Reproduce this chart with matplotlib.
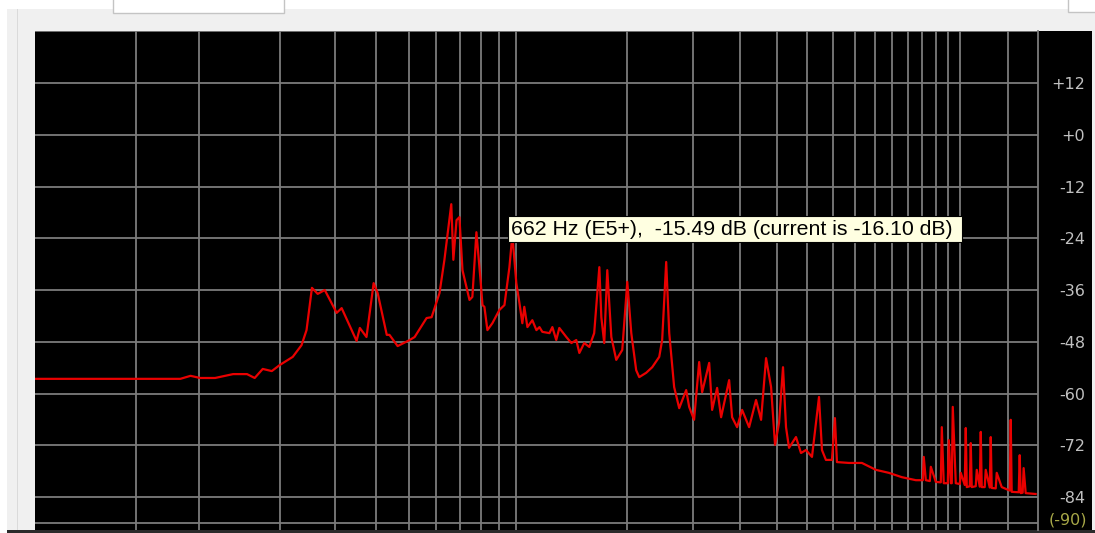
import numpy as np
import matplotlib.pyplot as plt
from matplotlib.patches import Rectangle

# cursor readout
cursor_hz = 662
cursor_note = 'E5+'
peak_db = -15.49
current_db = -16.10

# spectrum trace
freq_hz = [0, 83, 92, 101, 116, 136, 153, 163, 174, 187, 199, 220, 235, 244, 254,
           265, 279, 304, 315, 350, 358, 375, 394, 405, 431, 439, 464, 503, 520,
           563, 582, 613, 633, cursor_hz, 671, 685, 698, 712, 745, 759, 779, 800,
           810, 820, 836, 863, 903, 932, 962, 980, 1005, 1025, 1044, 1057, 1078,
           1112, 1141, 1163, 1184, 1238, 1261, 1292, 1317, 1376, 1420, 1464, 1492,
           1538, 1587, 1636, 1689, 1710, 1741, 1774, 1819, 1875, 1946, 2007, 2057,
           2120, 2160, 2254, 2339, 2442, 2486, 2548, 2596, 2675, 2759, 2879, 2932,
           3021, 3116, 3173, 3312, 3372, 3476, 3561, 3739, 3807, 3924, 4045, 4221,
           4402, 4538, 4677, 4821, 4938, 5060, 5182, 5277, 5374, 5605, 5777, 5953,
           6173, 6440, 6556, 6715, 6963, 7089, 7176, 7714, 8340, 9072, 9810, 10604,
           11534, 12027, 12097, 12247, 12546, 12621, 13004, 13400, 13479, 13638,
           13975, 14060, 14228, 14312, 14397, 14660, 15017, 15107, 15470, 15565,
           15660, 15944, 16039, 16134, 16525, 16626, 16928, 17029, 17130, 17438,
           17545, 17973, 18080, 18187, 18628, 18742, 19309, 20259, 20380, 20500,
           21381, 21508, 21636, 21892, 22020, 22292, 23660]
level_db = [-56.6, -56.6, -55.9, -56.4, -56.4, -55.5, -55.5, -56.4, -54.3, -54.8,
            -53.4, -51.5, -48.8, -45.3, -35.5, -36.9, -36.0, -41.3, -40.2, -47.8,
            -44.8, -46.9, -34.4, -36.7, -46.4, -46.4, -49.0, -47.6, -46.9, -42.5,
            -42.3, -36.7, -29.0, current_db, -29.0, -19.8, -19.1, -31.4, -38.3,
            -37.6, -22.6, -33.7, -39.5, -39.9, -45.3, -43.7, -40.6, -39.5, -30.7,
            -23.2, -34.4, -39.0, -43.7, -39.9, -44.6, -43.0, -45.3, -44.6, -45.7,
            -46.0, -44.6, -47.6, -44.8, -46.9, -48.3, -47.6, -50.6, -48.3, -49.2,
            -46.0, -30.7, -42.3, -48.3, -31.4, -46.9, -52.2, -49.9, -34.1, -46.0,
            -54.6, -56.2, -55.2, -53.9, -51.5, -47.6, -29.5, -46.0, -58.5, -63.4,
            -59.2, -63.1, -66.1, -52.7, -59.7, -52.9, -63.8, -58.7, -65.5, -56.9,
            -65.5, -67.8, -63.8, -67.8, -61.5, -66.1, -51.8, -58.5, -71.9, -66.8,
            -53.9, -67.8, -72.6, -70.1, -73.8, -73.1, -74.7, -60.8, -73.1, -75.4,
            -75.4, -65.7, -75.9, -76.1, -76.1, -77.7, -78.4, -79.4, -80.1, -80.1,
            -74.7, -80.1, -80.3, -77.0, -80.5, -80.6, -67.8, -80.8, -80.8, -70.8,
            -80.8, -80.8, -63.1, -80.8, -81.0, -78.4, -81.2, -68.0, -81.7, -81.5,
            -71.5, -81.7, -81.5, -77.7, -81.6, -68.9, -81.7, -81.7, -77.7, -81.8,
            -70.1, -81.9, -82.0, -78.4, -81.7, -82.5, -66.1, -82.8, -82.9, -74.3,
            -83.1, -83.0, -77.3, -83.1, -83.3]

# frequency grid (Hz) and level scale (dB)
grid_hz = [50, 100, 200, 300, 400, 500, 600, 700, 800, 900,
           1000, 2000, 3000, 4000, 5000, 6000, 7000, 8000, 9000, 10000,
           11000, 12000, 13000, 14000, 15000, 20000]
grid_db = [24, 12, 0, -12, -24, -36, -48, -60, -72, -84, -90]
tick_db = [12, 0, -12, -24, -36, -48, -60, -72, -84]
tick_text = ['+12', '+0', '-12', '-24', '-36', '-48', '-60', '-72', '-84']
floor_text = '(-90)'
f_max = 24000
db_top, db_bottom = 24.06, -91.65

W, H = 1095, 533
fig = plt.figure(figsize=(W / 100, H / 100), dpi=100)
fig.patch.set_facecolor('white')


def px_rect(x0, y0, x1, y1, **kw):
    # rectangle in screen pixels, y counted from the top
    r = Rectangle((x0 / W, 1 - y1 / H), (x1 - x0) / W, (y1 - y0) / H,
                  transform=fig.transFigure, **kw)
    fig.add_artist(r)
    return r


# window chrome around the analyser panel
px_rect(7, 9, 1095, 31, fc='#f0f0f0', ec='none', zorder=-5)
px_rect(7, 9, 35, 530, fc='#f0f0f0', ec='none', zorder=-5)
px_rect(17, 9, 18, 530, fc='#dadada', ec='none', zorder=-4)
px_rect(113, -3, 284, 13, fc='white', ec='#c4c4c4', lw=1.0, zorder=-3)
px_rect(1068, -3, 1100, 12, fc='white', ec='#c4c4c4', lw=1.0, zorder=-3)
px_rect(1092, 9, 1095, 530, fc='#f0f0f0', ec='none', zorder=-5)
px_rect(1038, 31, 1092, 530, fc='black', ec='none', zorder=-4)
px_rect(7, 530, 1095, 533, fc='#2b2b2b', ec='none', zorder=-4)

ax = fig.add_axes([35 / W, 3 / H, 1003 / W, 499 / H])
ax.set_facecolor('black')
# log-like frequency axis that still reaches 0 Hz
ax.set_xscale('function', functions=(lambda f: np.log10(np.asarray(f) + 60.0),
                                     lambda v: 10 ** np.asarray(v) - 60.0))
ax.set_xlim(0, f_max)
ax.set_ylim(db_bottom, db_top)

grid_color = '#7c7c7c'
for f in grid_hz:
    ax.axvline(f, color=grid_color, lw=1.3, zorder=1)
for d in grid_db:
    ax.axhline(d, color=grid_color, lw=1.3, zorder=1)

ax.plot(freq_hz, level_db, color='#ea0000', lw=1.6, zorder=3)

for side in ['left', 'bottom', 'top']:
    ax.spines[side].set_visible(False)
ax.spines['right'].set_color(grid_color)
ax.spines['right'].set_linewidth(1.3)

ax.set_xticks([])
ax.yaxis.tick_right()
ax.set_yticks(tick_db)
ax.set_yticklabels(tick_text, color='#c0c0c0', fontsize=11.5, ha='right')
ax.tick_params(axis='y', length=0, pad=47 * 0.72)
ax.text(1.0 + 49 / 1003, db_bottom + 0.6, floor_text, transform=ax.get_yaxis_transform(),
        color='#a8a848', fontsize=11.5, ha='right', va='bottom', clip_on=False)

# cursor tooltip
label = f'{cursor_hz} Hz ({cursor_note}),  {peak_db:.2f} dB (current is {current_db:.2f} dB)'
px_rect(508, 216, 962, 242, fc='#ffffe1', ec='black', lw=0.8, zorder=10)
fig.text(511 / W, 1 - 229.5 / H, label, fontsize=15.3, family='Liberation Sans',
         color='black', ha='left', va='center', zorder=11)

fig.savefig('out.png', dpi=100, facecolor=fig.get_facecolor())
